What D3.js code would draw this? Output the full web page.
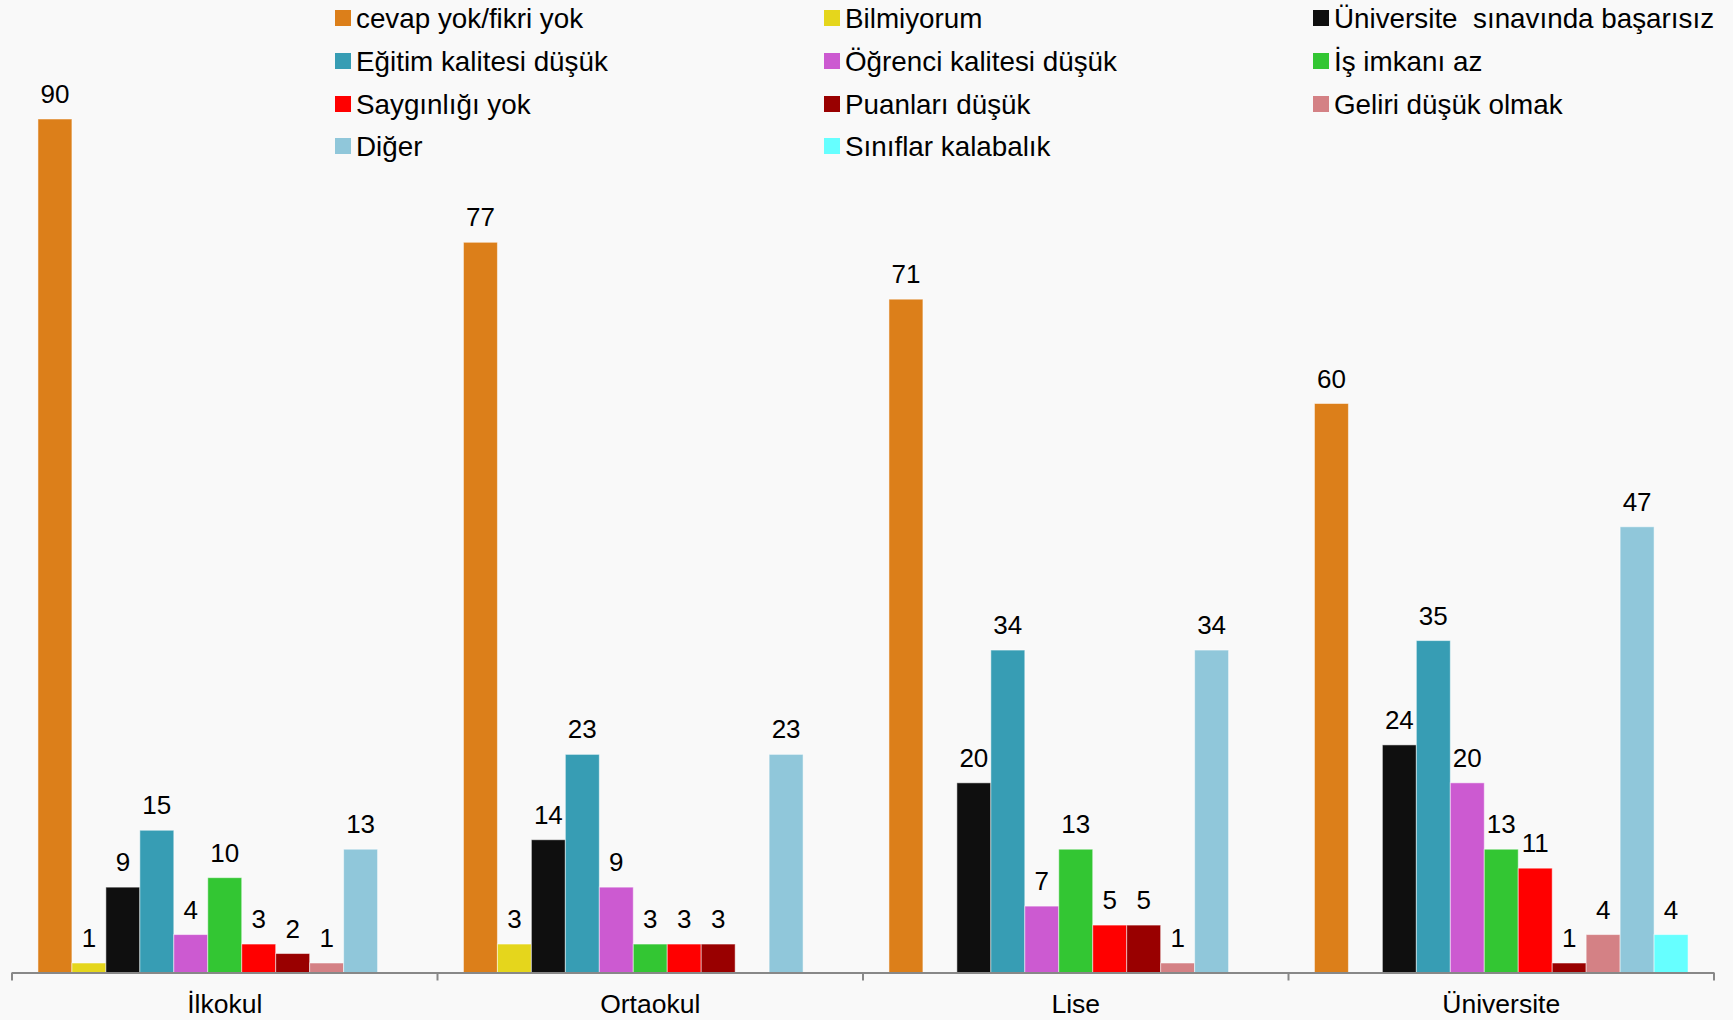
<!DOCTYPE html>
<html>
<head>
<meta charset="utf-8">
<script src="https://cdn.jsdelivr.net/npm/d3@7"></script>
<style>
  html, body { margin: 0; padding: 0; background: #f9f9f9; }
  svg { display: block; font-family: "Liberation Sans", Arial, sans-serif; }
</style>
</head>
<body>
<svg id="chart" width="1733" height="1020"></svg>
<script>
// categories (school level)
var categories = ['İlkokul', 'Ortaokul', 'Lise', 'Üniversite'];

// series names, in bar order
var seriesNames = [
  'cevap yok/fikri yok', 'Bilmiyorum', 'Üniversite  sınavında başarısız',
  'Eğitim kalitesi düşük', 'Öğrenci kalitesi düşük', 'İş imkanı az',
  'Saygınlığı yok', 'Puanları düşük', 'Geliri düşük olmak',
  'Diğer', 'Sınıflar kalabalık'
];

var seriesColors = ['#dc7f1a', '#e5d61c', '#0f0f0f', '#379db4', '#cc5ad1', '#33c633',
                    '#ff0000', '#990000', '#d48185', '#90c7da', '#66ffff'];

// values per series, one per category (null = no bar)
var cevapYok   = [90, 77, 71, 60];
var bilmiyorum = [1, 3, null, null];
var sinav      = [9, 14, 20, 24];
var egitim     = [15, 23, 34, 35];
var ogrenci    = [4, 9, 7, 20];
var isImkani   = [10, 3, 13, 13];
var saygin     = [3, 3, 5, 11];
var puan       = [2, 3, 5, 1];
var gelir      = [1, null, 1, 4];
var diger      = [13, 23, 34, 47];
var siniflar   = [null, null, null, 4];

var seriesValues = [cevapYok, bilmiyorum, sinav, egitim, ogrenci, isImkani,
                    saygin, puan, gelir, diger, siniflar];

var svg = d3.select('#chart');
var left = 12, right = 1714, baseY = 972.5, topY = 119;

var x0 = d3.scaleBand().domain(categories).range([left, right]).padding(0);
var gap = x0.bandwidth() * 0.061;
var x1 = d3.scaleBand().domain(d3.range(seriesNames.length))
  .range([gap, x0.bandwidth() - gap]).padding(0);
var y = d3.scaleLinear().domain([0, 90]).range([baseY, topY]);

var rows = [];
categories.forEach(function(c, ci){
  seriesValues.forEach(function(vals, si){
    if (vals[ci] != null) rows.push({cat: c, s: si, v: vals[ci]});
  });
});

var g = svg.append('g');
g.selectAll('rect.bar').data(rows).enter().append('rect')
  .attr('class', 'bar')
  .attr('x', function(d){ return x0(d.cat) + x1(d.s); })
  .attr('width', x1.bandwidth())
  .attr('y', function(d){ return y(d.v); })
  .attr('height', function(d){ return baseY - y(d.v); })
  .attr('fill', function(d){ return seriesColors[d.s]; })
  .attr('stroke', '#ffffff')
  .attr('stroke-opacity', 0.5)
  .attr('stroke-width', 1);

g.selectAll('text.val').data(rows).enter().append('text')
  .attr('class', 'val')
  .attr('x', function(d){ return x0(d.cat) + x1(d.s) + x1.bandwidth() / 2; })
  .attr('y', function(d){ return y(d.v) - 16; })
  .attr('text-anchor', 'middle')
  .attr('font-size', 26)
  .attr('fill', '#000')
  .text(function(d){ return d.v; });

// x axis with category ticks at boundaries
var axis = svg.append('g');
axis.append('line')
  .attr('x1', left).attr('x2', right).attr('y1', baseY + 0.5).attr('y2', baseY + 0.5)
  .attr('stroke', '#888').attr('stroke-width', 2);
var bounds = categories.map(function(c){ return x0(c); }).concat([right]);
axis.selectAll('line.tick').data(bounds).enter().append('line')
  .attr('class', 'tick')
  .attr('x1', function(d){ return d; }).attr('x2', function(d){ return d; })
  .attr('y1', baseY).attr('y2', baseY + 8)
  .attr('stroke', '#888').attr('stroke-width', 2);
axis.selectAll('text.cat').data(categories).enter().append('text')
  .attr('class', 'cat')
  .attr('x', function(d){ return x0(d) + x0.bandwidth() / 2; })
  .attr('y', 1013)
  .attr('text-anchor', 'middle')
  .attr('font-size', 26.5)
  .attr('fill', '#000')
  .text(function(d){ return d; });

// legend: 3 columns x 4 rows
var colX = [335, 824, 1313];
var rowY = [18, 61, 104, 146];
var leg = svg.append('g');
seriesNames.forEach(function(name, i){
  var cx = colX[i % 3], cy = rowY[Math.floor(i / 3)];
  leg.append('rect')
    .attr('x', cx).attr('y', cy - 8).attr('width', 16).attr('height', 16)
    .attr('fill', seriesColors[i]);
  leg.append('text')
    .attr('x', cx + 21).attr('y', cy + 10)
    .attr('font-size', 27.8)
    .attr('fill', '#000')
    .style('white-space', 'pre')
    .text(name);
});
</script>
</body>
</html>
